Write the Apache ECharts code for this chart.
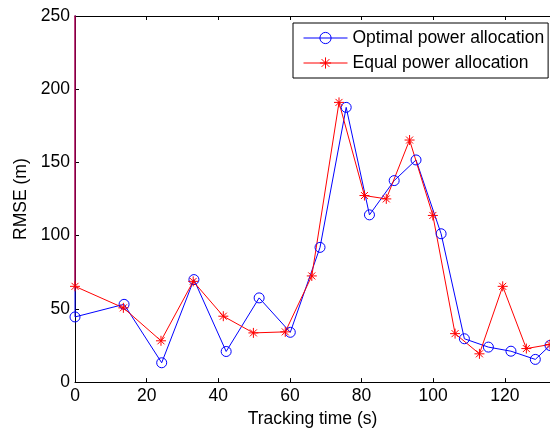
<!DOCTYPE html>
<html>
<head>
<meta charset="utf-8">
<script src="https://cdn.jsdelivr.net/npm/echarts@6/dist/echarts.min.js"></script>
<style>html,body{margin:0;padding:0;background:#fff}#c{width:550px;height:433px}</style>
</head>
<body>
<div id="c"></div>
<script>
// Data
var optimalX = [0, 0, 13.7, 24.2, 33.2, 42.2, 51.4, 60.1, 68.4, 75.7, 82.2, 89.1, 95.2, 102.2, 108.7, 115.4, 121.7, 128.5, 132.6];
var optimalY = [400, 44.5, 53.1, 13.2, 70, 20.9, 57.5, 34, 92, 187.6, 114.2, 137.6, 151.7, 101.3, 29.6, 23.9, 21.1, 15.5, 25.0];
var equalX = [0, 0, 13.5, 24.0, 33.0, 41.4, 49.8, 58.7, 66.1, 73.7, 80.8, 86.9, 93.4, 99.9, 106.1, 112.9, 119.4, 126.0, 132.6];
var equalY = [400, 65.4, 50.7, 28.2, 68.8, 45, 33.6, 34.3, 72.5, 191, 127.4, 125.1, 165.3, 113.8, 33.1, 19.3, 65.4, 22.9, 25.7];
var xTicks = [0, 20, 40, 60, 80, 100, 120];
var yTicks = [0, 50, 100, 150, 200, 250];
var seriesNames = ['Optimal power allocation', 'Equal power allocation'];
var xName = 'Tracking time (s)';
var yName = 'RMSE (m)';

function pairs(xs, ys) {
  return xs.map(function (x, i) {
    var d = { value: [x, ys[i]] };
    if (ys[i] > yTicks[yTicks.length - 1]) d.symbol = 'none';
    return d;
  });
}

var FONT = 'Liberation Sans, Arial, sans-serif';
var FS = 17.5;
var star = 'path://M0,-10L0,10M-10,0L10,0M-7,-7L7,7M-7,7L7,-7';
var ring = 'path://M10,0A10,10 0 1,1 -10,0A10,10 0 1,1 10,0Z';
var chart = echarts.init(document.getElementById('c'), null, { renderer: 'canvas' });
function axisCommon() {
  return {
    type: 'value',
    axisLine: { show: true, onZero: false, lineStyle: { color: '#000', width: 1 } },
    axisTick: { show: true, inside: true, length: 4, lineStyle: { color: '#000' } },
    splitLine: { show: false }
  };
}
chart.setOption({
  animation: false,
  backgroundColor: '#fff',
  grid: { left: 75, right: 0, top: 16, bottom: 50, containLabel: false },
  legend: {
    orient: 'vertical', left: 293, top: 23,
    data: seriesNames,
    itemWidth: 44, itemHeight: 14, itemGap: 7,
    padding: [6, 4, 6, 10],
    borderColor: '#000', borderWidth: 1, backgroundColor: '#fff',
    itemStyle: { borderWidth: 1 },
    lineStyle: { width: 1 },
    textStyle: { fontFamily: FONT, fontSize: FS, lineHeight: 16, color: '#000' }
  },
  xAxis: [
    Object.assign(axisCommon(), {
      min: 0, max: 132.6, interval: 20,
      name: xName, nameLocation: 'middle', nameGap: 27,
      nameTextStyle: { fontFamily: FONT, fontSize: FS, color: '#000' },
      axisLabel: { fontFamily: FONT, fontSize: FS, color: '#000', margin: 5, showMaxLabel: false,
        formatter: function (v) { return xTicks.indexOf(v) >= 0 ? String(v) : ''; } }
    }),
    Object.assign(axisCommon(), {
      position: 'top', min: 0, max: 132.6, interval: 20,
      axisLabel: { show: false }
    })
  ],
  yAxis: [
    Object.assign(axisCommon(), {
      min: 0, max: 250, interval: 50,
      name: yName, nameLocation: 'middle', nameGap: 44,
      nameTextStyle: { fontFamily: FONT, fontSize: FS, color: '#000' },
      axisLabel: { fontFamily: FONT, fontSize: FS, color: '#000', margin: 5,
        formatter: function (v) { return yTicks.indexOf(v) >= 0 ? String(v) : ''; } }
    })
  ],
  series: [
    {
      name: seriesNames[0], type: 'line', clip: true,
      data: pairs(optimalX, optimalY),
      symbol: ring, symbolSize: 10,
      lineStyle: { color: '#0000ff', width: 1 },
      itemStyle: { color: 'rgba(255,255,255,0)', borderColor: '#0000ff', borderWidth: 1 }
    },
    {
      name: seriesNames[1], type: 'line', clip: true,
      data: pairs(equalX, equalY),
      symbol: star, symbolSize: 10,
      lineStyle: { color: '#ff0000', width: 1 },
      itemStyle: { color: '#ff0000', borderColor: '#ff0000', borderWidth: 1 }
    }
  ]
});
</script>
</body>
</html>
